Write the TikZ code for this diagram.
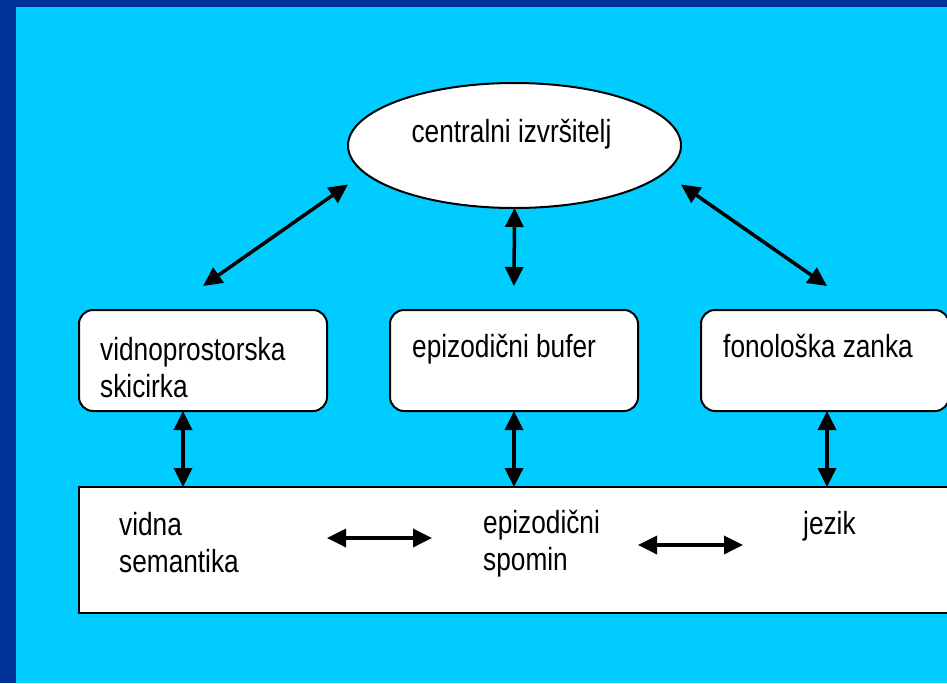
\documentclass[tikz,border=0pt]{standalone}
\usepackage{fontspec}
\setmainfont{Liberation Sans}[FakeStretch=0.82]
\usetikzlibrary{arrows.meta,shapes.geometric,positioning}
\definecolor{okvir}{HTML}{003399}
\definecolor{ozadje}{HTML}{00CCFF}
\tikzset{
	skatla/.style={
			draw, line width=2pt, fill=white, rounded corners=14pt,
			minimum width=248pt, minimum height=101pt,
			inner sep=0pt, outer sep=0pt, anchor=north west
		},
	oval/.style={
			ellipse, draw, line width=2pt, fill=white,
			minimum width=333pt, minimum height=125pt,
			inner sep=0pt, outer sep=0pt
		},
	napis/.style={font=\fontsize{32}{37}\selectfont, align=left, inner sep=0pt},
	dvojna/.style={
			{Triangle[length=19pt,width=18pt]}-{Triangle[length=19pt,width=18pt]},
			line width=3.5pt
		}
}

\begin{document}
\begin{tikzpicture}[x=1pt,y=-1pt]
		\fill[okvir] (0,0) rectangle (947,683);
		\fill[ozadje] (16,7) rectangle (947,683);
		\useasboundingbox (0,0) rectangle (947,683);

		% osrednji del
		\node[oval] (izvr) at (514.5,145.5) {};
		\node[napis, anchor=base] (tizvr) at ([shift={(-3,-3.5)}]izvr.center) {centralni izvršitelj};

		% podsistemi
		\node[skatla] (vps) at (79,310) {};
		\node[skatla] (epb) at (390,310) {};
		\node[skatla] (fzk) at (701,310) {};
		\node[napis, anchor=base west] (tvps) at ([shift={(21,87)}]vps.north west) {vidnoprostorska\\skicirka};
		\node[napis, anchor=base west] (tepb) at ([shift={(22,47)}]epb.north west) {epizodični bufer};
		\node[napis, anchor=base west] (tfzk) at ([shift={(22,47)}]fzk.north west) {fonološka zanka};

		% dolgoročni spomin
		\node[skatla, rounded corners=0pt, minimum width=880pt, minimum height=126pt] (dsp) at (79,487) {};
		\node[napis, anchor=base west] (tvs) at ([shift={(40,85)}]dsp.north west) {vidna\\semantika};
		\node[napis, anchor=base west] (tes) at ([shift={(404,83)}]dsp.north west) {epizodični\\spomin};
		\node[napis, anchor=base west] (tjz) at ([shift={(724,47)}]dsp.north west) {jezik};

		\draw[dvojna] ([yshift=-39pt]izvr.west) -- ([yshift=24pt]vps.north);
		\draw[dvojna] (izvr.south) -- ([yshift=24pt]epb.north);
		\draw[dvojna] ([yshift=-39pt]izvr.east) -- ([shift={(2,-24)}]fzk.north);

		\draw[dvojna] ([xshift=-20pt]vps.south) -- ([xshift=-20pt]vps.south |- dsp.north);
		\draw[dvojna] (epb.south) -- (epb.south |- dsp.north);
		\draw[dvojna] ([xshift=2pt]fzk.south) -- ([xshift=2pt]fzk.south |- dsp.north);

		\draw[dvojna] ([shift={(248,51)}]dsp.north west) -- ([shift={(353,51)}]dsp.north west);
		\draw[dvojna] ([shift={(559,58)}]dsp.north west) -- ([shift={(664,58)}]dsp.north west);
	\end{tikzpicture}
\end{document}
